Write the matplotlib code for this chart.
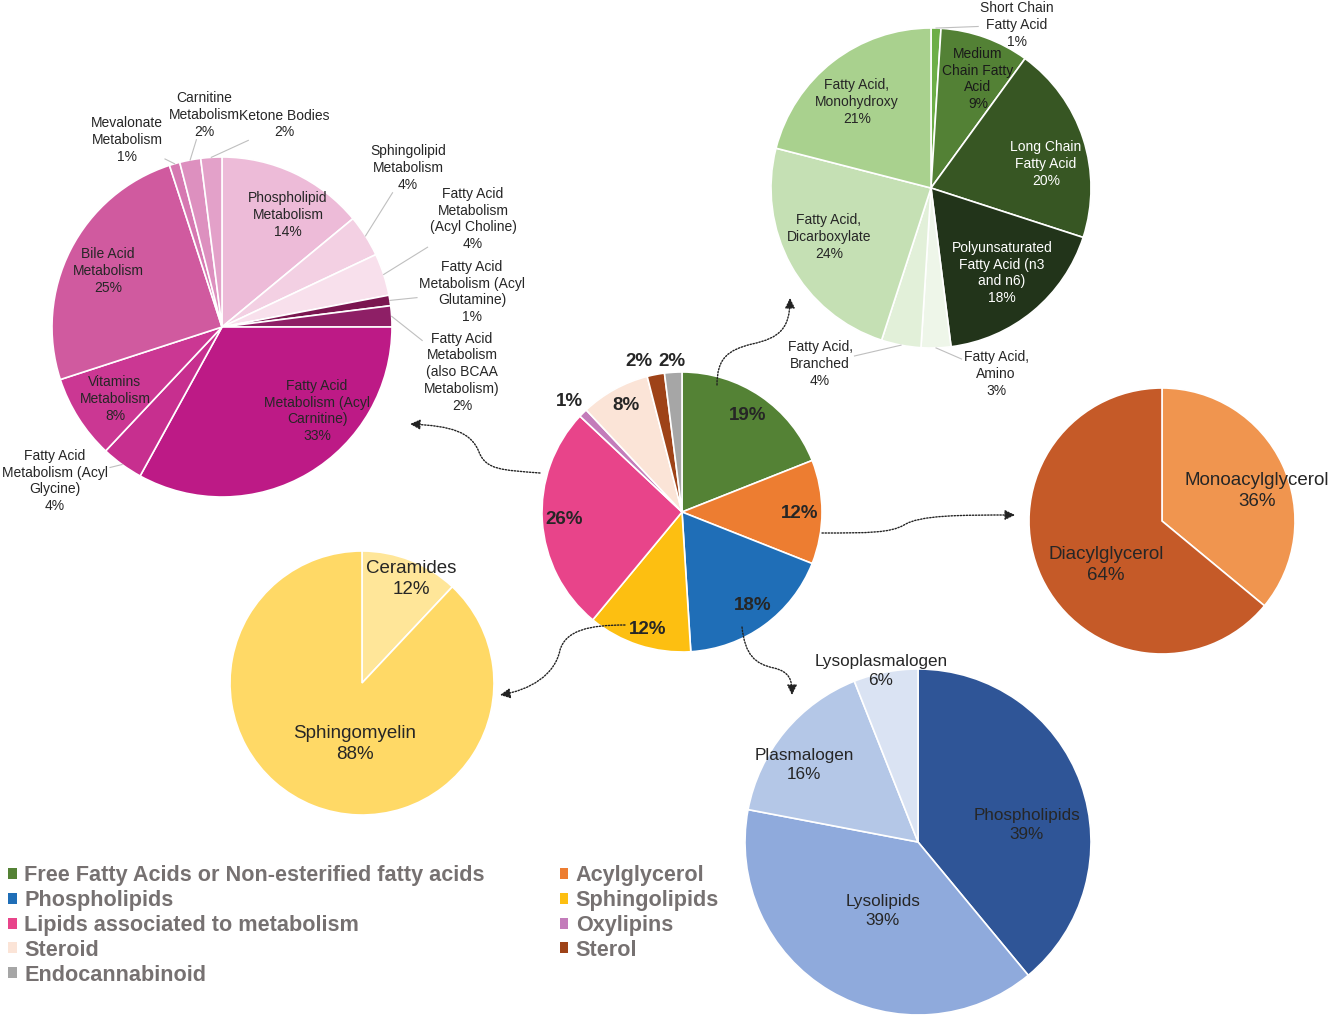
import numpy as np
import matplotlib.pyplot as plt
from matplotlib.patches import Patch, FancyArrowPatch
from matplotlib.path import Path

plt.rcParams['font.family'] = ['Liberation Sans', 'DejaVu Sans']

# --- central pie: lipid classes
main_names = ['Free Fatty Acids or Non-esterified fatty acids', 'Acylglycerol', 'Phospholipids',
              'Sphingolipids', 'Lipids associated to metabolism', 'Oxylipins', 'Steroid', 'Sterol',
              'Endocannabinoid']
main_values = [19, 12, 18, 12, 26, 1, 8, 2, 2]
main_colors = ['#548235', '#ED7D31', '#1F6EB7', '#FDBF11', '#E8448A', '#C37CBA', '#FBE4D7',
               '#9E4318', '#A6A6A6']

# --- lipids associated to metabolism
met_names = ['Phospholipid\nMetabolism', 'Sphingolipid\nMetabolism', 'Fatty Acid\nMetabolism\n(Acyl Choline)',
             'Fatty Acid\nMetabolism (Acyl\nGlutamine)', 'Fatty Acid\nMetabolism\n(also BCAA\nMetabolism)',
             'Fatty Acid\nMetabolism (Acyl\nCarnitine)', 'Fatty Acid\nMetabolism (Acyl\nGlycine)',
             'Vitamins\nMetabolism', 'Bile Acid\nMetabolism', 'Mevalonate\nMetabolism',
             'Carnitine\nMetabolism', 'Ketone Bodies']
met_values = [14, 4, 4, 1, 2, 33, 4, 8, 25, 1, 2, 2]
met_colors = ['#EDBBD8', '#F3D0E3', '#F8E0EC', '#7A1650', '#8E1F66', '#BD1A86', '#C72F8F',
              '#CB3793', '#D05A9F', '#D678B1', '#DD90BF', '#E3A1C9']

# --- free fatty acids
ffa_names = ['Short Chain\nFatty Acid', 'Medium\nChain Fatty\nAcid', 'Long Chain\nFatty Acid',
             'Polyunsaturated\nFatty Acid (n3\nand n6)', 'Fatty Acid,\nAmino', 'Fatty Acid,\nBranched',
             'Fatty Acid,\nDicarboxylate', 'Fatty Acid,\nMonohydroxy']
ffa_values = [1, 9, 20, 18, 3, 4, 24, 21]
ffa_colors = ['#6DAE47', '#538135', '#375623', '#22341A', '#EEF6E9', '#E2F0D9', '#C5E0B4', '#A9D18E']

# --- acylglycerol
acyl_names = ['Monoacylglycerol', 'Diacylglycerol']
acyl_values = [36, 64]
acyl_colors = ['#F0954F', '#C55A28']

# --- sphingolipids
sph_names = ['Ceramides', 'Sphingomyelin']
sph_values = [12, 88]
sph_colors = ['#FFE699', '#FFD966']

# --- phospholipids
pho_names = ['Phospholipids', 'Lysolipids', 'Plasmalogen', 'Lysoplasmalogen']
pho_values = [39, 39, 16, 6]
pho_colors = ['#2F5597', '#8FAADC', '#B4C7E7', '#DAE3F3']

W, H = 1333, 1015
fig = plt.figure(figsize=(W / 100, H / 100), dpi=100)
ax = fig.add_axes([0, 0, 1, 1])

TXT = '#262626'
pies = []


def draw_pie(values, colors, center, radius, texts, offsets, size, weight='normal',
             tcolors=None, leaders=None, ls=1.25):
    # y axis is flipped (pixel coords), so startangle=-90 + counterclock = clockwise from top
    wedges, _ = ax.pie(values, colors=colors, center=center, radius=radius, startangle=-90,
                       counterclock=True, wedgeprops=dict(edgecolor='white', linewidth=1.2))
    objs = []
    for i, s in enumerate(texts):
        c = tcolors[i] if tcolors else TXT
        t = ax.text(center[0] + offsets[i][0], center[1] + offsets[i][1], s, ha='center',
                    va='center', fontsize=size, fontweight=weight, color=c, linespacing=ls)
        objs.append(t)
    pies.append((wedges, objs, center, radius, leaders))


draw_pie(main_values, main_colors, (682, 512), 140, [f'{v}%' for v in main_values],
         [(66, -96), (118, 1), (71, 94), (-34, 117), (-118, 8), (-113, -111), (-56, -107),
          (-43, -151), (-10, -151)], 13.5, weight='bold')

draw_pie(met_values, met_colors, (222, 327), 170, [f'{n}\n{v}%' for n, v in zip(met_names, met_values)],
         [(66, -112), (186, -159), (251, -108), (250, -35), (240, 45), (95, 84), (-167, 154),
          (-107, 72), (-114, -56), (-95, -187), (-18, -212), (62, -203)], 10,
         leaders=[0, 1, 1, 1, 1, 0, 1, 0, 0, 1, 1, 1])

draw_pie(ffa_values, ffa_colors, (931, 188), 160, [f'{n}\n{v}%' for n, v in zip(ffa_names, ffa_values)],
         [(86, -163), (47, -109), (115, -24), (71, 85), (65, 186), (-111, 176), (-102, 49), (-74, -86)],
         10, tcolors=[TXT, '#1a1a1a', 'white', 'white', TXT, TXT, TXT, TXT],
         leaders=[1, 0, 0, 0, 1, 1, 0, 0])

draw_pie(acyl_values, acyl_colors, (1162, 521), 133, [f'{n}\n{v}%' for n, v in zip(acyl_names, acyl_values)],
         [(95, -30), (-56, 44)], 13.5, ls=1.32)

draw_pie(sph_values, sph_colors, (362, 683), 132, [f'{n}\n{v}%' for n, v in zip(sph_names, sph_values)],
         [(49, -104), (-7, 61)], 13.5, ls=1.3)

draw_pie(pho_values, pho_colors, (918, 842), 173, [f'{n}\n{v}%' for n, v in zip(pho_names, pho_values)],
         [(109, -17), (-35, 69), (-114, -77), (-37, -171)], 12.3, ls=1.3)

ax.set_xlim(0, W)
ax.set_ylim(H, 0)
ax.set_aspect('equal')
ax.axis('off')

# leader lines from wedge edge to label box
renderer = fig.canvas.get_renderer()
inv = ax.transData.inverted()
for wedges, objs, center, radius, leaders in pies:
    if not leaders:
        continue
    for w, t, flag in zip(wedges, objs, leaders):
        if not flag:
            continue
        mid = np.deg2rad((w.theta1 + w.theta2) / 2)
        p0 = np.array([center[0] + radius * np.cos(mid), center[1] + radius * np.sin(mid)])
        bb = t.get_window_extent(renderer).transformed(inv)
        x0, x1 = sorted([bb.x0, bb.x1])
        y0, y1 = sorted([bb.y0, bb.y1])
        tc = np.array([(x0 + x1) / 2, (y0 + y1) / 2])
        d = p0 - tc
        hw, hh = (x1 - x0) / 2 + 2, (y1 - y0) / 2 + 1
        tx = hw / abs(d[0]) if d[0] else np.inf
        ty = hh / abs(d[1]) if d[1] else np.inf
        k = min(tx, ty)
        if k >= 1:
            continue
        p1 = tc + d * k
        ax.plot([p0[0], p1[0]], [p0[1], p1[1]], color='#BFBFBF', lw=0.8, zorder=1)

# dotted connectors from the central pie
arrows = [
    [(717, 385), (717, 358), (728, 350), (752, 344), (780, 338), (790, 328), (790, 298)],
    [(540, 473), (502, 470), (486, 470), (479, 452), (471, 432), (452, 426), (410, 424)],
    [(822, 533), (868, 533), (890, 533), (904, 525), (920, 515), (960, 515), (1015, 515)],
    [(625, 625), (590, 625), (566, 630), (560, 650), (555, 675), (530, 690), (500, 695)],
    [(742, 627), (745, 655), (755, 664), (774, 668), (790, 672), (792, 680), (792, 695)],
]
codes = [Path.MOVETO] + [Path.CURVE4] * 6
for pts in arrows:
    arr = FancyArrowPatch(path=Path(pts, codes), arrowstyle='-|>,head_length=6,head_width=3',
                          linestyle=(0, (1, 1.2)), lw=1, color='#222222', mutation_scale=1)
    ax.add_patch(arr)

order = [0, 2, 4, 6, 8, 1, 3, 5, 7]
handles = [Patch(facecolor=main_colors[i], edgecolor='none', label=main_names[i]) for i in order]
ax.legend(handles=handles, loc='upper left', bbox_to_anchor=(8 / W, 1 - 865 / H), ncol=2,
          frameon=False, borderpad=0, borderaxespad=0, handlelength=0.4, handleheight=0.4,
          handletextpad=0.35, labelspacing=0.18, columnspacing=3.45, labelcolor='#767171',
          prop={'weight': 'bold', 'size': 15.6})

fig.savefig('out.png', dpi=100)
